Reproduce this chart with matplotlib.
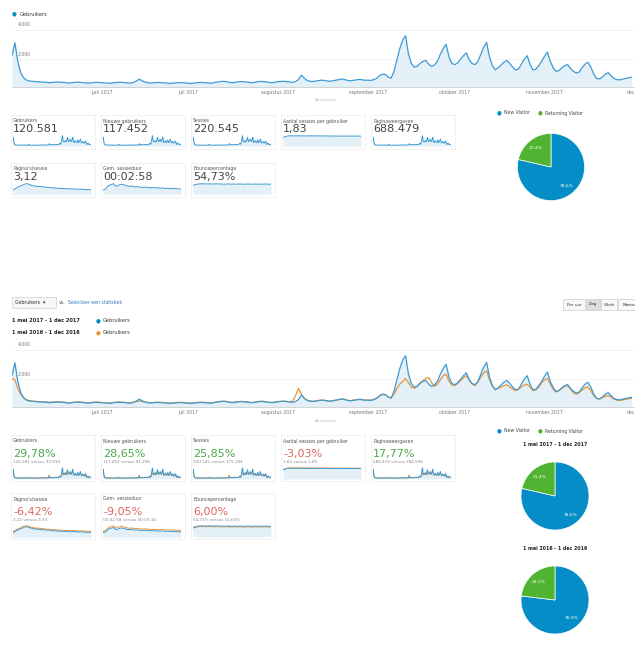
import numpy as np
import matplotlib
matplotlib.use("Agg")
import matplotlib.pyplot as plt
from matplotlib.patches import Rectangle

W, H = 635, 648

# daily users, 1 may - 1 dec (215 days)
users_2017 = [
    # mei
    2200, 3100, 1800, 1000, 650, 480, 420, 400, 380, 360, 350, 340, 330, 300, 320, 340,
    350, 330, 320, 290, 280, 310, 330, 340, 320, 300, 270, 280, 310, 330, 320,
    # juni
    300, 290, 270, 260, 300, 320, 330, 320, 310, 280, 270, 330, 420, 550, 430, 350,
    300, 280, 300, 320, 310, 300, 290, 260, 250, 280, 300, 310, 300, 280,
    # juli
    260, 250, 280, 300, 320, 310, 300, 280, 270, 320, 350, 380, 400, 380, 340, 300,
    330, 360, 380, 370, 350, 320, 300, 340, 370, 390, 380, 350, 320, 300, 340,
    # augustus
    370, 390, 400, 380, 350, 330, 380, 520, 830, 620, 450, 400, 380, 420, 450, 480,
    460, 420, 400, 440, 480, 520, 560, 520, 460, 430, 470, 500, 530, 510, 470,
    # september
    480, 460, 520, 600, 800, 900, 880, 700, 620, 1100, 1900, 2700, 3300, 3600, 2300,
    1650, 1400, 1450, 1650, 1800, 1860, 1600, 1450, 1550, 1800, 2300, 2700, 3000, 2100, 1650,
    # oktober
    1570, 1700, 1950, 2200, 2400, 1900, 1650, 1570, 1800, 2300, 2800, 3120, 2100, 1500,
    1200, 1350, 1550, 1750, 1860, 1650, 1400, 1200, 1250, 1600, 1950, 2200, 1600, 1200,
    1250, 1500, 1800,
    # november
    2150, 2450, 1800, 1350, 1100, 1150, 1350, 1500, 1570, 1300, 1100, 980, 1050, 1350,
    1600, 1740, 1400, 900, 600, 570, 700, 900, 1000, 800, 600, 520, 500, 550, 600, 640,
    # 1 dec
    680,
]

users_2016 = [
    2000, 1900, 1300, 900, 650, 500, 450, 420, 400, 380, 370, 360, 350, 330, 340, 360,
    370, 350, 330, 310, 300, 330, 350, 360, 340, 320, 290, 300, 330, 350, 340,
    320, 310, 290, 280, 320, 340, 350, 340, 330, 300, 290, 340, 380, 420, 390, 350,
    320, 300, 320, 340, 330, 320, 310, 280, 270, 300, 320, 330, 320, 300,
    280, 270, 300, 320, 340, 330, 320, 300, 290, 330, 360, 390, 410, 390, 350, 320,
    340, 370, 390, 380, 360, 330, 320, 350, 380, 400, 390, 360, 330, 320, 350,
    380, 400, 410, 390, 360, 420, 800, 1300, 900, 600, 480, 430, 400, 430, 460, 490,
    470, 430, 410, 450, 490, 530, 570, 530, 470, 440, 480, 510, 540, 520, 480,
    500, 480, 530, 620, 760, 880, 850, 700, 650, 900, 1300, 1600, 1800, 2000, 1700,
    1400, 1300, 1450, 1700, 1850, 2000, 2070, 1700, 1450, 1600, 1900, 2200, 2300, 1800, 1550,
    1500, 1650, 1850, 2050, 2200, 1900, 1600, 1500, 1750, 2100, 2400, 2550, 1900, 1450,
    1250, 1300, 1400, 1500, 1550, 1400, 1250, 1150, 1250, 1400, 1550, 1600, 1400, 1150,
    1200, 1400, 1700,
    1900, 2000, 1600, 1250, 1050, 1150, 1300, 1450, 1500, 1250, 1000, 900, 1000, 1200,
    1350, 1400, 1150, 800, 600, 550, 650, 750, 800, 700, 550, 480, 460, 500, 540, 580,
    600,
]

month_ticks = [31, 61, 92, 123, 153, 184, 214]
month_labels = ["juni 2017", "juli 2017", "augustus 2017", "september 2017",
                "oktober 2017", "november 2017", "dec"]

# weekly values for ratio metrics (sparklines)
spu_2017 = [1.55, 1.75, 1.85, 1.86, 1.84, 1.85, 1.86, 1.85, 1.84, 1.83, 1.85, 1.86, 1.84, 1.85, 1.84, 1.83,
            1.85, 1.84, 1.82, 1.83, 1.81, 1.82, 1.80, 1.81, 1.82, 1.80, 1.81, 1.80, 1.82, 1.81, 1.80]
spu_2016 = [1.60, 1.80, 1.90, 1.92, 1.90, 1.91, 1.92, 1.90, 1.89, 1.90, 1.91, 1.90, 1.89, 1.90, 1.88, 1.89,
            1.90, 1.88, 1.87, 1.88, 1.87, 1.88, 1.86, 1.87, 1.88, 1.86, 1.87, 1.86, 1.87, 1.86, 1.86]
pps_2017 = [2.6, 2.9, 3.2, 3.4, 3.6, 3.8, 3.7, 3.5, 3.4, 3.3, 3.3, 3.2, 3.2, 3.1, 3.1, 3.0,
            3.0, 2.95, 2.9, 2.9, 2.85, 2.9, 2.8, 2.85, 2.8, 2.75, 2.8, 2.75, 2.7, 2.7, 2.65]
pps_2016 = [2.8, 3.1, 3.4, 3.6, 3.9, 4.0, 3.9, 3.7, 3.6, 3.5, 3.5, 3.4, 3.4, 3.3, 3.3, 3.2,
            3.2, 3.15, 3.1, 3.1, 3.05, 3.1, 3.0, 3.05, 3.0, 2.95, 3.0, 2.95, 2.9, 2.9, 2.85]
dur_2017 = [150, 160, 190, 200, 210, 185, 195, 205, 200, 190, 185, 188, 180, 182, 178, 175,
            178, 176, 172, 175, 170, 172, 168, 170, 165, 168, 164, 166, 163, 162, 160]
dur_2016 = [165, 175, 205, 220, 230, 205, 215, 225, 218, 208, 200, 205, 198, 200, 195, 192,
            195, 192, 188, 190, 186, 188, 184, 186, 181, 184, 180, 182, 179, 178, 176]
bounce_2017 = [48, 52, 55, 56, 56, 55, 56, 55, 55, 56, 55, 55, 54, 55, 55, 54,
               55, 54, 55, 54, 54, 55, 54, 54, 55, 54, 54, 54, 55, 54, 54]
bounce_2016 = [45, 49, 52, 53, 52, 52, 53, 52, 52, 52, 51, 52, 51, 52, 51, 51,
               52, 51, 51, 51, 50, 51, 51, 50, 51, 51, 50, 51, 51, 50, 51]

metric_titles = ["Gebruikers", "Nieuwe gebruikers", "Sessies", "Aantal sessies per gebruiker",
                 "Paginaweergaven", "Pagina's/sessie", "Gem. sessieduur", "Bouncepercentage"]
metric_values = ["120.581", "117.452", "220.545", "1,83", "688.479", "3,12", "00:02:58", "54,73%"]
metric_change = ["29,78%", "28,65%", "25,85%", "-3,03%", "17,77%", "-6,42%", "-9,05%", "6,00%"]
metric_prev = ["92.914", "91.296", "175.244", "1,89", "584.596", "3,33", "00:03:16", "51,63%"]
change_good = [True, True, True, False, True, False, False, False]

visitor_types = ["New Visitor", "Returning Visitor"]
pie_2017 = [78.6, 21.4]
pie_2016 = [76.9, 23.1]

BLUE = "#3d9ad2"
ORANGE = "#e8943a"
FILL = "#e4f0f8"
PIE_COLORS = ["#058dc7", "#50b432"]
GRAY = "#777777"


def px_axes(fig, x0, y0, x1, y1):
    return fig.add_axes([x0 / W, 1 - y1 / H, (x1 - x0) / W, (y1 - y0) / H])


def ftext(fig, x, y, s, **kw):
    kw.setdefault("va", "center")
    return fig.text(x / W, 1 - y / H, s, **kw)


def frect(fig, x0, y0, x1, y1, **kw):
    fig.add_artist(Rectangle((x0 / W, 1 - y1 / H), (x1 - x0) / W, (y1 - y0) / H,
                             transform=fig.transFigure, **kw))


def main_chart(fig, y_top, y_bot, series):
    ax = px_axes(fig, 12, y_top, 640, y_bot)
    days = np.arange(len(series[0]))
    ax.fill_between(days, series[0], color=FILL, lw=0)
    if len(series) == 2:
        ax.plot(days, series[1], color=ORANGE, lw=0.9)
    ax.plot(days, series[0], color=BLUE, lw=0.9)
    ax.set_xlim(0, 217)
    ax.set_ylim(0, 4000)
    ax.axhline(2000, color="#eeeeee", lw=0.5, zorder=0)
    ax.axhline(4000, color="#eeeeee", lw=0.5, zorder=0)
    for sp in ["top", "right", "left"]:
        ax.spines[sp].set_visible(False)
    ax.spines["bottom"].set_color("#cccccc")
    ax.spines["bottom"].set_linewidth(0.6)
    ax.set_yticks([])
    ax.set_xticks(month_ticks)
    ax.set_xticklabels(month_labels, fontsize=3.3, color=GRAY)
    ax.tick_params(axis="x", length=0, pad=2)
    ax.set_facecolor("none")
    ax.text(2, 2150, "2.000", fontsize=3.3, color=GRAY)
    ax.text(2, 4250, "4.000", fontsize=3.3, color=GRAY, clip_on=False)
    return ax


def spark(fig, x0, y0, x1, y1, series, start_zero=True):
    ax = px_axes(fig, x0, y0, x1, y1)
    n = np.arange(len(series[0]))
    ax.fill_between(n, series[0], color=FILL, lw=0)
    if len(series) == 2:
        ax.plot(n, series[1], color=ORANGE, lw=0.7)
    ax.plot(n, series[0], color=BLUE, lw=0.7)
    top = max(max(s) for s in series)
    if start_zero:
        ax.set_ylim(0, top * 1.08)
    else:
        low = min(min(s) for s in series)
        ax.set_ylim(low - (top - low) * 0.6, top + (top - low) * 0.1)
    ax.set_xlim(0, len(series[0]) - 1)
    ax.axis("off")


spark_data = [
    (users_2017, users_2016, True), (users_2017, users_2016, True), (users_2017, users_2016, True),
    (spu_2017, spu_2016, True), (users_2017, users_2016, True),
    (pps_2017, pps_2016, False), (dur_2017, dur_2016, False), (bounce_2017, bounce_2016, True),
]
card_x = [13, 103, 193, 283, 373, 13, 103, 193]

fig = plt.figure(figsize=(W / 100, H / 100), dpi=100)
fig.patch.set_facecolor("white")

# ---------- top dashboard ----------
ftext(fig, 14, 14, "●", fontsize=4, color="#058dc7", ha="center")
ftext(fig, 20, 14, "Gebruikers", fontsize=3.6, color="#333333")
main_chart(fig, 30, 87, [users_2017])
ftext(fig, 326, 100, "Annotaties", fontsize=3, color="#bbbbbb", ha="center")

for i in range(8):
    row = i // 5
    x = card_x[i]
    ty = 121 if row == 0 else 169
    frect(fig, x - 2, ty - 6, x + 82, ty + 28, fill=False, ec="#ececec", lw=0.5)
    ftext(fig, x, ty, metric_titles[i], fontsize=3.3, color="#555555")
    ftext(fig, x, ty + 8, metric_values[i], fontsize=8, color="#444444")
    a, b, z = spark_data[i]
    spark(fig, x, ty + 14, x + 78, ty + 25, [a], z)

# top pie
ftext(fig, 499, 113, "●", fontsize=4, color=PIE_COLORS[0], ha="center")
ftext(fig, 504, 113, visitor_types[0], fontsize=3.3, color="#444444")
ftext(fig, 540, 113, "●", fontsize=4, color=PIE_COLORS[1], ha="center")
ftext(fig, 545, 113, visitor_types[1], fontsize=3.3, color="#444444")


def pie(fig, cx, cy, r, vals):
    ax = px_axes(fig, cx - r, cy - r, cx + r, cy + r)
    ax.pie(vals, colors=PIE_COLORS, startangle=90, counterclock=False,
           wedgeprops=dict(edgecolor="white", linewidth=0.5),
           autopct=lambda p: f"{p:.1f}%".replace(".", ","), pctdistance=0.72,
           textprops=dict(color="white", fontsize=3.2))
    ax.set_aspect("equal")


pie(fig, 551, 167, 42, pie_2017)

# ---------- comparison dashboard ----------
frect(fig, 12, 297, 56, 308, fill=True, fc="#f7f7f7", ec="#d0d0d0", lw=0.5)
ftext(fig, 15, 302.5, "Gebruikers  ▾", fontsize=3.3, color="#333333")
ftext(fig, 59, 302.5, "vs.", fontsize=3.3, color="#555555")
ftext(fig, 68, 302.5, "Selecteer een statistiek", fontsize=3.3, color="#3b78c2")

btn_x = [563, 586, 601, 618, 642]
btn_lbl = ["Per uur", "Dag", "Week", "Maand"]
for j, lbl in enumerate(btn_lbl):
    frect(fig, btn_x[j], 299, btn_x[j + 1] - 1, 310, fill=True,
          fc="#dddddd" if lbl == "Dag" else "#f8f8f8", ec="#cccccc", lw=0.5)
    ftext(fig, (btn_x[j] + btn_x[j + 1] - 1) / 2, 304.5, lbl, fontsize=3, color="#333333", ha="center")

ftext(fig, 12, 321, "1 mei 2017 - 1 dec 2017", fontsize=3.6, color="#222222", weight="bold")
ftext(fig, 98, 321, "●", fontsize=4, color="#058dc7", ha="center")
ftext(fig, 103, 321, "Gebruikers", fontsize=3.6, color="#333333")
ftext(fig, 12, 333, "1 mei 2016 - 1 dec 2016", fontsize=3.6, color="#222222", weight="bold")
ftext(fig, 98, 333, "●", fontsize=4, color=ORANGE, ha="center")
ftext(fig, 103, 333, "Gebruikers", fontsize=3.6, color="#333333")

main_chart(fig, 350, 407, [users_2017, users_2016])
ftext(fig, 326, 421, "Annotaties", fontsize=3, color="#bbbbbb", ha="center")

for i in range(8):
    row = i // 5
    x = card_x[i]
    ty = 441 if row == 0 else 499
    frect(fig, x - 2, ty - 6, x + 82, ty + 40, fill=False, ec="#ececec", lw=0.5)
    ftext(fig, x, ty, metric_titles[i], fontsize=3.3, color="#555555")
    ftext(fig, x, ty + 13, metric_change[i], fontsize=8,
          color="#4aa84a" if change_good[i] else "#e0665c")
    ftext(fig, x, ty + 21, f"{metric_values[i]} versus {metric_prev[i]}", fontsize=3, color="#888888")
    a, b, z = spark_data[i]
    spark(fig, x, ty + 26, x + 78, ty + 38, [a, b], z)

ftext(fig, 499, 431, "●", fontsize=4, color=PIE_COLORS[0], ha="center")
ftext(fig, 504, 431, visitor_types[0], fontsize=3.3, color="#444444")
ftext(fig, 540, 431, "●", fontsize=4, color=PIE_COLORS[1], ha="center")
ftext(fig, 545, 431, visitor_types[1], fontsize=3.3, color="#444444")

ftext(fig, 555, 444, "1 mei 2017 - 1 dec 2017", fontsize=3.4, color="#222222", ha="center", weight="bold")
pie(fig, 555, 496, 42.5, pie_2017)
ftext(fig, 555, 548, "1 mei 2016 - 1 dec 2016", fontsize=3.4, color="#222222", ha="center", weight="bold")
pie(fig, 555, 600, 42.5, pie_2016)

fig.savefig("out.png", dpi=100)
